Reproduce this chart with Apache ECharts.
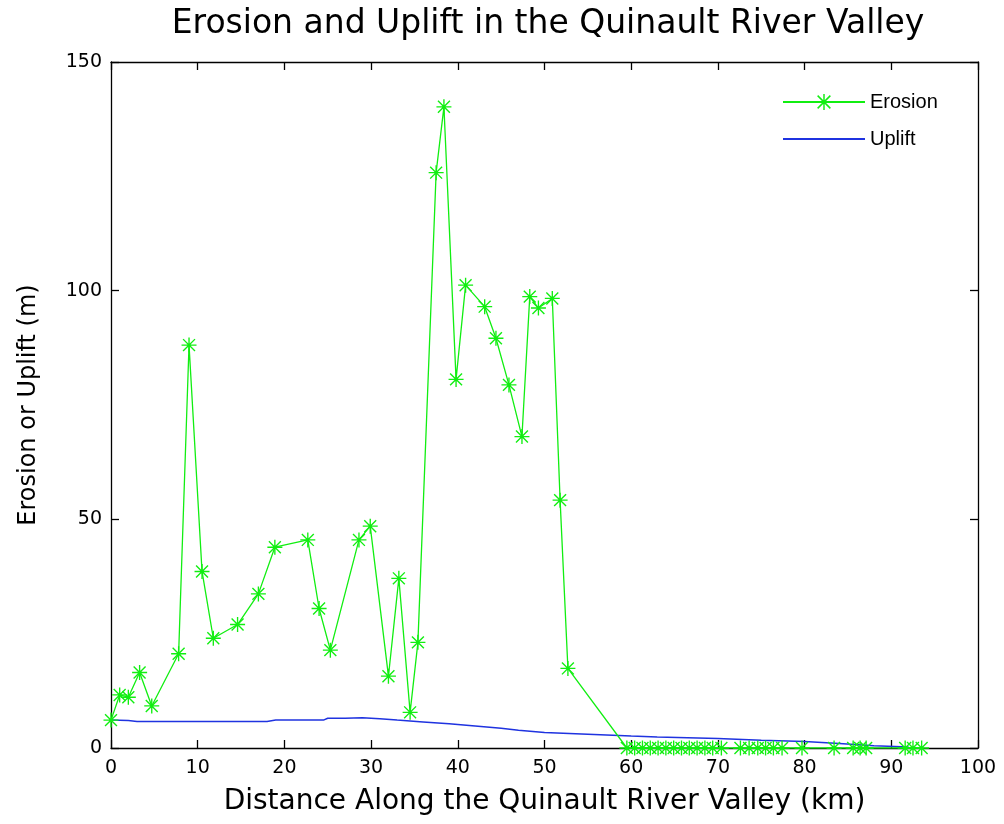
<!DOCTYPE html>
<html>
<head>
<meta charset="utf-8">
<script src="https://cdn.jsdelivr.net/npm/echarts@6/dist/echarts.min.js"></script>
<style>
html,body{margin:0;padding:0;background:#fff;}
#chart{width:1004px;height:824px;}
</style>
</head>
<body>
<div id="chart"></div>
<script>
const titleText = 'Erosion and Uplift in the Quinault River Valley';
const xAxisName = 'Distance Along the Quinault River Valley (km)';
const yAxisName = 'Erosion or Uplift (m)';
const seriesNames = ['Erosion', 'Uplift'];

const erosionX = [0.0, 1.0, 2.0, 3.3, 4.7, 7.8, 9.0, 10.5, 11.8, 14.6, 17.0, 18.9, 22.7, 24.0, 25.3, 28.6, 29.9, 32.0, 33.2, 34.5, 35.4, 37.5, 38.4, 39.8, 40.9, 43.1, 44.4, 45.9, 47.4, 48.3, 49.3, 50.9, 51.8, 52.7,
  59.5, 60.4, 61.3, 62.2, 63.1, 64.0, 64.9, 65.8, 66.7, 67.6, 68.5, 69.4, 70.4, 72.6, 73.6, 74.6, 75.5, 76.4, 77.4, 79.7, 83.4, 85.6, 86.4, 87.1, 91.6, 92.5, 93.5];
const erosionY = [6.1, 11.6, 11.1, 16.5, 9.2, 20.6, 88.1, 38.6, 24.0, 27.0, 33.7, 43.9, 45.5, 30.5, 21.4, 45.5, 48.5, 15.7, 37.1, 7.8, 23.1, 125.8, 140.2, 80.6, 101.2, 96.5, 89.6, 79.4, 68.1, 98.7, 96.2, 98.3, 54.2, 17.4,
  0, 0, 0, 0, 0, 0, 0, 0, 0, 0, 0, 0, 0, 0, 0, 0, 0, 0, 0, 0, 0, 0, 0, 0, 0, 0, 0];

const upliftX = [0, 2, 3, 18, 19, 24.5, 25, 27, 29, 31, 33, 36, 39, 42, 45, 47, 50, 55, 60, 63, 70, 75, 80, 84, 88, 92];
const upliftY = [6.1, 6.0, 5.8, 5.8, 6.1, 6.1, 6.5, 6.5, 6.6, 6.4, 6.1, 5.7, 5.3, 4.8, 4.3, 3.9, 3.4, 3.0, 2.6, 2.4, 2.1, 1.7, 1.4, 1.0, 0.5, 0.2];

const xTicks = {min: 0, max: 100, interval: 10};
const yTicks = {min: 0, max: 150, interval: 50};

const green = '#11ee11';
const blue = '#1f33e0';
const font = 'Liberation Sans, Arial, sans-serif';
const wideFont = 'DejaVu Sans, sans-serif';
const asterisk = 'path://M9.1 0H10.9V20H9.1Z M0 9.1H20V10.9H0Z M2.7 1.4L18.6 17.3L17.3 18.6L1.4 2.7Z M17.3 1.4L18.6 2.7L2.7 18.6L1.4 17.3Z';

const erosionData = erosionX.map((x, i) => [x, erosionY[i]]);
const upliftData = upliftX.map((x, i) => [x, upliftY[i]]);

const axisCommon = {
  axisLine: {show: true, onZero: false, lineStyle: {color: '#000', width: 1.3}},
  axisTick: {show: true, inside: true, length: 8, lineStyle: {color: '#000', width: 1.3}},
  splitLine: {show: false}
};

const chart = echarts.init(document.getElementById('chart'), null, {renderer: 'canvas'});
chart.setOption({
  backgroundColor: '#fff',
  animation: false,
  title: {
    text: titleText, left: 543, top: 3, textAlign: 'center',
    textStyle: {fontFamily: wideFont, fontSize: 33, fontWeight: 'normal', color: '#000'}
  },
  legend: {
    orient: 'vertical', left: 777, top: 87, itemWidth: 82, itemHeight: 20, itemGap: 17,
    textStyle: {fontFamily: font, fontSize: 20, color: '#000'},
    data: [
      {name: seriesNames[0]},
      {name: seriesNames[1], itemStyle: {opacity: 0}}
    ]
  },
  grid: {left: 111, right: 26, top: 62, bottom: 76, containLabel: false},
  xAxis: [
    Object.assign({
      type: 'value', position: 'bottom', min: xTicks.min, max: xTicks.max, interval: xTicks.interval,
      name: xAxisName, nameLocation: 'middle', nameGap: 40,
      nameTextStyle: {fontFamily: wideFont, fontSize: 28, color: '#000'},
      axisLabel: {fontFamily: wideFont, fontSize: 19, color: '#000', margin: 11}
    }, axisCommon),
    Object.assign({
      type: 'value', position: 'top', min: xTicks.min, max: xTicks.max, interval: xTicks.interval,
      axisLabel: {show: false}
    }, axisCommon)
  ],
  yAxis: [
    Object.assign({
      type: 'value', position: 'left', min: yTicks.min, max: yTicks.max, interval: yTicks.interval,
      name: yAxisName, nameLocation: 'middle', nameGap: 70, nameRotate: 90,
      nameTextStyle: {fontFamily: wideFont, fontSize: 24, color: '#000'},
      axisLabel: {fontFamily: wideFont, fontSize: 19, color: '#000', margin: 9}
    }, axisCommon),
    Object.assign({
      type: 'value', position: 'right', min: yTicks.min, max: yTicks.max, interval: yTicks.interval,
      axisLabel: {show: false}
    }, axisCommon)
  ],
  series: [
    {
      name: seriesNames[0], type: 'line', xAxisIndex: 0, yAxisIndex: 0,
      data: erosionData, symbol: asterisk, symbolSize: 15, showAllSymbol: true,
      lineStyle: {color: green, width: 1.3}, itemStyle: {color: green},
      z: 3
    },
    {
      name: seriesNames[1], type: 'line', xAxisIndex: 0, yAxisIndex: 0,
      data: upliftData, symbol: 'none', showSymbol: false,
      lineStyle: {color: blue, width: 1.5}, itemStyle: {color: blue},
      z: 2
    }
  ]
});
</script>
</body>
</html>
